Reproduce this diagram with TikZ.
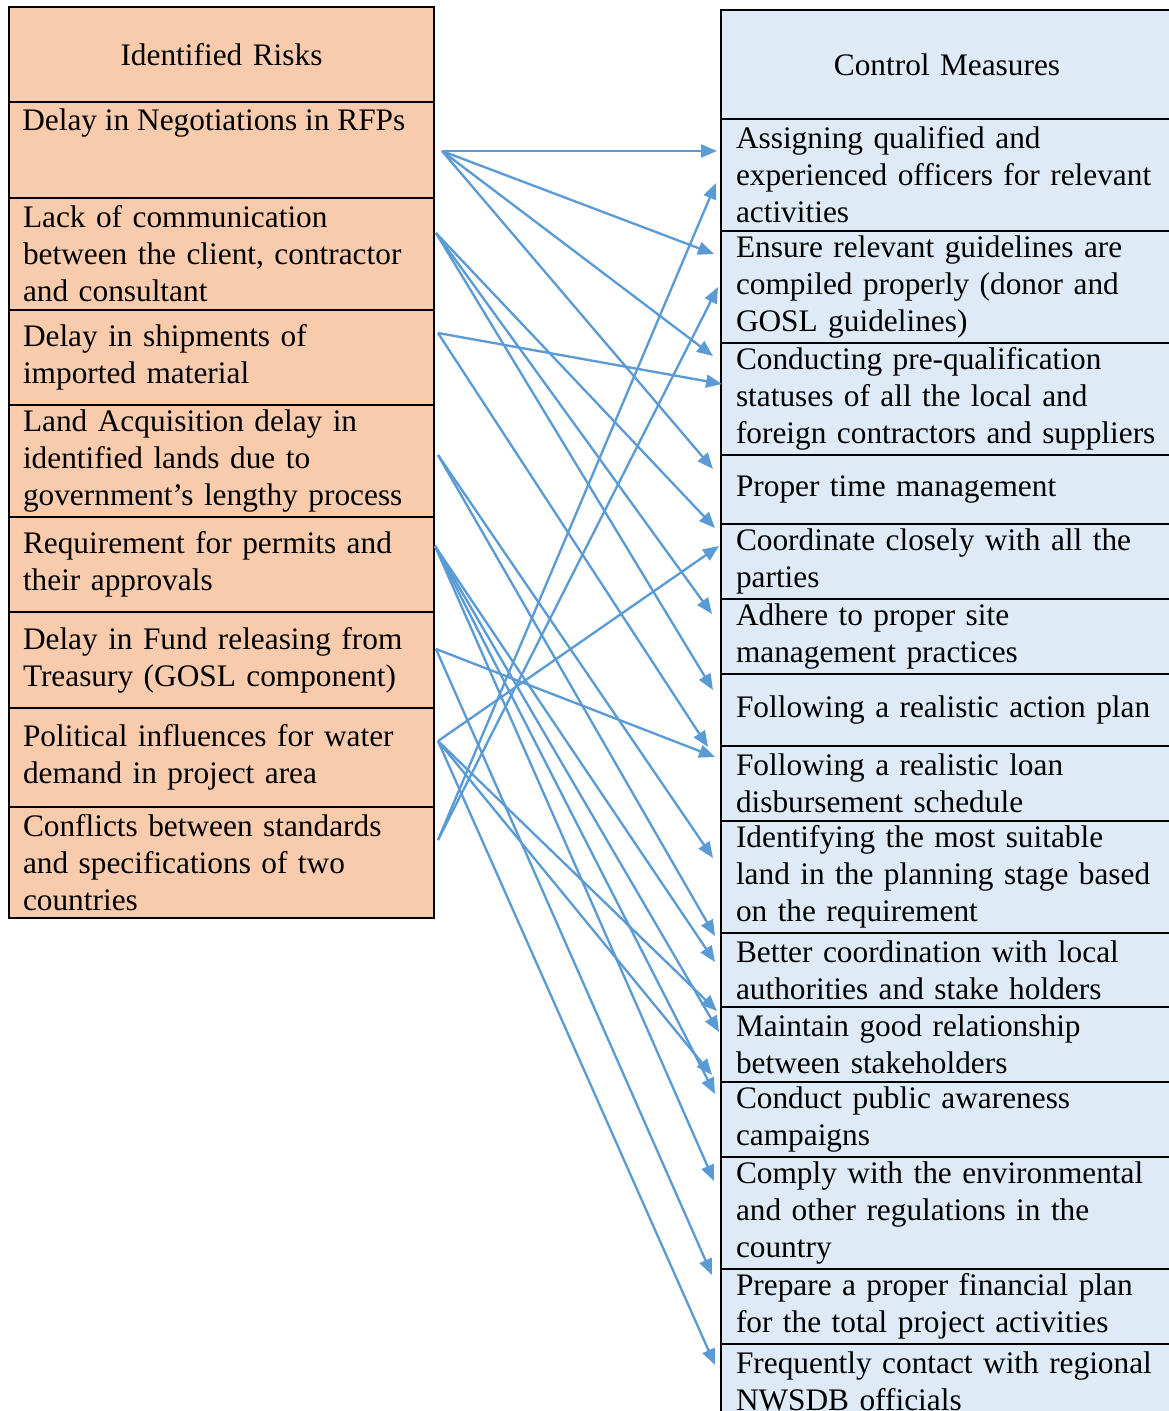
\documentclass[tikz,border=0pt]{standalone}
\usepackage{fontspec}
\setmainfont{Liberation Serif}
\usetikzlibrary{arrows.meta}
\definecolor{riskfill}{HTML}{F8CBAD}
\definecolor{ctrlfill}{HTML}{DEEBF7}
\definecolor{arrowblue}{HTML}{5B9BD5}
\begin{document}
\begin{tikzpicture}[x=0.6pt,y=-0.6pt,
  every node/.style={font=\fontsize{18.8pt}{22.2pt}\selectfont},
  cellbase/.style={draw=black, line width=1.2pt, anchor=north west, inner ysep=0pt, align=left},
  riskcell/.style={cellbase, fill=riskfill, inner xsep=8.4pt, text width=238.2pt},
  riskhead/.style={riskcell, align=center},
  ctrlcell/.style={cellbase, fill=ctrlfill, inner xsep=9pt, text width=264pt},
  ctrlhead/.style={cellbase, fill=ctrlfill, inner xsep=9pt, text width=253.2pt, align=center},
  link/.style={draw=arrowblue, line width=1.4pt, -{Triangle[length=9.6pt,width=7.8pt]}}
]
\path[use as bounding box, clip] (0,0) rectangle (1169,1411);
\fill[white] (0,0) rectangle (1169,1411);

% ---- Identified Risks column ----
\node[riskhead, minimum height=57pt]   (rh) at (8,6)   {Identified Risks};
\node[riskcell, minimum height=57.6pt] (r1) at (8,101) {};
\node[anchor=base west, inner sep=0pt] (r1t) at (22,130) {Delay in Negotiations in RFPs};
\node[riskcell, minimum height=67.2pt] (r2) at (8,197) {Lack of communication\\ between the client, contractor\\ and consultant};
\node[riskcell, minimum height=57pt]   (r3) at (8,309) {Delay in shipments of\\ imported material};
\node[riskcell, minimum height=67.2pt] (r4) at (8,404) {Land Acquisition delay in\\ identified lands due to\\ government’s lengthy process};
\node[riskcell, minimum height=57pt]   (r5) at (8,516) {Requirement for permits and\\ their approvals};
\node[riskcell, minimum height=57.6pt] (r6) at (8,611) {Delay in Fund releasing from\\ Treasury (GOSL component)};
\node[riskcell, minimum height=59.4pt] (r7) at (8,707) {Political influences for water\\ demand in project area};
\node[riskcell, minimum height=66.6pt] (r8) at (8,806) {Conflicts between standards\\ and specifications of two\\ countries};

% ---- Control Measures column ----
\node[ctrlhead, minimum height=65.4pt] (mh)  at (720,9)    {Control Measures};
\node[ctrlcell, minimum height=67.2pt] (m1)  at (720,118)  {Assigning qualified and\\ experienced officers for relevant\\ activities};
\node[ctrlcell, minimum height=67.2pt] (m2)  at (720,230)  {Ensure relevant guidelines are\\ compiled properly (donor and\\ GOSL guidelines)};
\node[ctrlcell, minimum height=67.2pt] (m3)  at (720,342)  {Conducting pre-qualification\\ statuses of all the local and\\ foreign contractors and suppliers};
\node[ctrlcell, minimum height=41.4pt] (m4)  at (720,454)  {Proper time management};
\node[ctrlcell, minimum height=45pt]   (m5)  at (720,523)  {Coordinate closely with all the\\ parties};
\node[ctrlcell, minimum height=45pt]   (m6)  at (720,598)  {Adhere to proper site\\ management practices};
\node[ctrlcell, minimum height=43.2pt] (m7)  at (720,673)  {Following a realistic action plan};
\node[ctrlcell, minimum height=45pt]   (m8)  at (720,745)  {Following a realistic loan\\ disbursement schedule};
\node[ctrlcell, minimum height=67.2pt] (m9)  at (720,820)  {Identifying the most suitable\\ land in the planning stage based\\ on the requirement};
\node[ctrlcell, minimum height=44.4pt] (m10) at (720,932)  {Better coordination with local\\ authorities and stake holders};
\node[ctrlcell, minimum height=45pt]   (m11) at (720,1006) {Maintain good relationship\\ between stakeholders};
\node[ctrlcell, minimum height=45pt]   (m12) at (720,1081) {Conduct public awareness\\ campaigns};
\node[ctrlcell, minimum height=67.2pt] (m13) at (720,1156) {Comply with the environmental\\ and other regulations in the\\ country};
\node[ctrlcell, minimum height=45pt]   (m14) at (720,1268) {Prepare a proper financial plan\\ for the total project activities};
\node[ctrlcell, minimum height=45pt]   (m15) at (720,1343) {Frequently contact with regional\\ NWSDB officials};

% ---- connector start points ----
\coordinate (s1) at (442,151);
\coordinate (s2) at (436,233);
\coordinate (s3) at (438,333);
\coordinate (s4) at (438,455);
\coordinate (s5) at (435,546);
\coordinate (s6) at (436,649);
\coordinate (s7) at (438,741);
\coordinate (s8) at (438,840);

% ---- connector end points ----
\coordinate (m1a)  at (717,151);
\coordinate (m1b)  at (716,183);
\coordinate (m2a)  at (714,254);
\coordinate (m2b)  at (718,287);
\coordinate (m3a)  at (713,356);
\coordinate (m3b)  at (722,384);
\coordinate (m4a)  at (713,469);
\coordinate (m5a)  at (715,528);
\coordinate (m5b)  at (719,546);
\coordinate (m6a)  at (712,614);
\coordinate (m7a)  at (713,690);
\coordinate (m8a)  at (708,747);
\coordinate (m8b)  at (715,757);
\coordinate (m9a)  at (713,858);
\coordinate (m10a) at (715,936);
\coordinate (m10b) at (715,962);
\coordinate (m11a) at (717,1011);
\coordinate (m11b) at (719,1032);
\coordinate (m12a) at (712,1075);
\coordinate (m12b) at (715,1094);
\coordinate (m13a) at (714,1181);
\coordinate (m14a) at (712,1275);
\coordinate (m15a) at (715,1365);

% ---- connectors ----
\draw[link] (s1) -- (m1a);
\draw[link] (s1) -- (m2a);
\draw[link] (s1) -- (m3a);
\draw[link] (s1) -- (m4a);
\draw[link] (s2) -- (m5a);
\draw[link] (s2) -- (m6a);
\draw[link] (s2) -- (m7a);
\draw[link] (s3) -- (m3b);
\draw[link] (s3) -- (m8a);
\draw[link] (s4) -- (m9a);
\draw[link] (s4) -- (m10a);
\draw[link] (s5) -- (m10b);
\draw[link] (s5) -- (m11b);
\draw[link] (s5) -- (m12b);
\draw[link] (s5) -- (m13a);
\draw[link] (s6) -- (m8b);
\draw[link] (s6) -- (m14a);
\draw[link] (s7) -- (m5b);
\draw[link] (s7) -- (m11a);
\draw[link] (s7) -- (m12a);
\draw[link] (s7) -- (m15a);
\draw[link] (s8) -- (m1b);
\draw[link] (s8) -- (m2b);
\end{tikzpicture}
\end{document}
